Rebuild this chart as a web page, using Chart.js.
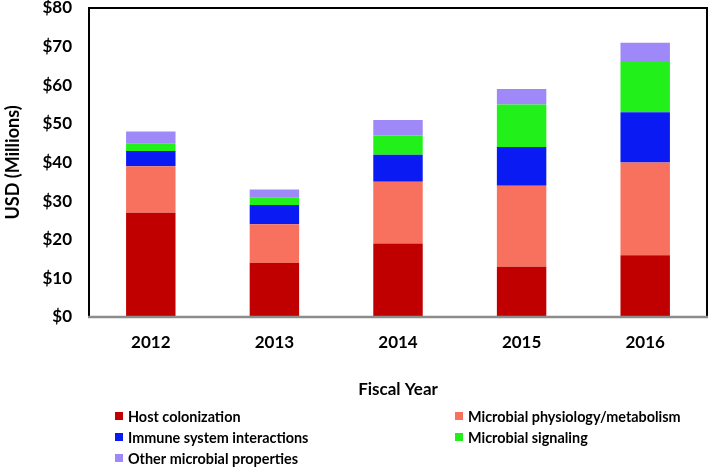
<!DOCTYPE html>
<html>
<head>
<meta charset="utf-8">
<script src="https://cdn.jsdelivr.net/npm/chart.js@4/dist/chart.umd.min.js"></script>
<style>
  html, body { margin: 0; padding: 0; background: #fff; }
  #box { width: 710px; height: 467px; }
</style>
</head>
<body>
<div id="box"><canvas id="myChart"></canvas></div>
<script>
// 데이터 (그림에서 읽은 값, 단위: 백만 달러)
var years = ['2012', '2013', '2014', '2015', '2016'];
var hostColonization = [27, 14, 19, 13, 16];
var physiologyMetabolism = [12, 10, 16, 21, 24];
var immuneInteractions = [4, 5, 7, 10, 13];
var microbialSignaling = [2, 2, 5, 11, 13];
var otherProperties = [3, 2, 4, 4, 5];
var yTicks = [0, 10, 20, 30, 40, 50, 60, 70, 80];

var labelFont = "Lato, 'Open Sans', sans-serif";
var labelWeight = 'bold';

function makeDataset(label, data, color){
	return {
		label : label,
		data : data,
		backgroundColor : color,
		borderWidth : 0,
		categoryPercentage : 1,
		barPercentage : 0.4
	};
}

var chartData = {
	labels : years,
	datasets : [
		makeDataset('Host colonization', hostColonization, '#C00000'),
		makeDataset('Microbial physiology/metabolism', physiologyMetabolism, '#F8705E'),
		makeDataset('Immune system interactions', immuneInteractions, '#0A1AF2'),
		makeDataset('Microbial signaling', microbialSignaling, '#22F01A'),
		makeDataset('Other microbial properties', otherProperties, '#9F88F8')
	]
};

// 차트 테두리 + 범례(두 칸) 그리기
var framePlugin = {
	id : 'frame',
	afterDatasetsDraw : function(chart){
		var ctx = chart.ctx, a = chart.chartArea;
		ctx.save();
		ctx.strokeStyle = '#000';
		ctx.lineWidth = 2;
		ctx.beginPath();
		ctx.moveTo(a.left, a.bottom);
		ctx.lineTo(a.left, a.top);
		ctx.lineTo(a.right, a.top);
		ctx.lineTo(a.right, a.bottom);
		ctx.stroke();
		ctx.strokeStyle = '#8c8c8c';
		ctx.lineWidth = 2.5;
		ctx.beginPath();
		ctx.moveTo(a.left - 1, a.bottom);
		ctx.lineTo(a.right + 1, a.bottom);
		ctx.stroke();
		ctx.restore();
	},
	afterDraw : function(chart){
		var ctx = chart.ctx;
		var cols = [115, 455];
		var rows = [416, 437, 458];
		ctx.save();
		ctx.font = labelWeight + ' 16px ' + labelFont;
		ctx.textBaseline = 'middle';
		chart.data.datasets.forEach(function(ds, i){
			var x = cols[i % 2], y = rows[Math.floor(i / 2)];
			ctx.fillStyle = ds.backgroundColor;
			ctx.fillRect(x, y - 4, 8, 8);
			ctx.fillStyle = '#000';
			// 글자를 조금 좁게 (Calibri 느낌)
			var w = ctx.measureText(ds.label).width * 0.9;
			ctx.fillText(ds.label, x + 13, y + 1, w);
		});
		ctx.restore();
	}
};

var chartOptions = {
	responsive : true,
	maintainAspectRatio : false,
	animation : false,
	layout : { padding : { top : 8, right : 3, bottom : 67, left : 0 } },
	plugins : {
		legend : { display : false },
		tooltip : { enabled : false }
	},
	scales : {
		x : {
			stacked : true,
			grid : { display : false, drawTicks : false },
			border : { display : false },
			ticks : {
				color : '#000',
				padding : 15,
				font : { family : labelFont, size : 17, weight : labelWeight }
			},
			title : {
				display : true,
				text : 'Fiscal Year',
				color : '#000',
				padding : { top : 0, bottom : 0 },
				font : { family : labelFont, size : 17, weight : labelWeight }
			},
			afterFit : function(scale){ scale.height = 83; }
		},
		y : {
			stacked : true,
			min : 0,
			max : 80,
			afterBuildTicks : function(scale){
				scale.ticks = yTicks.map(function(v){ return { value : v }; });
			},
			grid : { display : false, drawTicks : false },
			border : { display : false },
			ticks : {
				color : '#000',
				padding : 17,
				font : { family : labelFont, size : 17, weight : labelWeight },
				callback : function(v){ return '$' + v; }
			},
			title : {
				display : true,
				text : 'USD (Millions)',
				color : '#000',
				padding : { top : 2, bottom : 0 },
				font : { family : labelFont, size : 18, weight : labelWeight }
			},
			afterFit : function(scale){
				scale.width = 89;
				scale.paddingTop = 0;
				scale.paddingBottom = 0;
			}
		}
	}
};

var ctx = document.getElementById('myChart').getContext('2d');
var myChart = new Chart(ctx, {
	type : 'bar',
	data : chartData,
	options : chartOptions,
	plugins : [framePlugin]
});
</script>
</body>
</html>
